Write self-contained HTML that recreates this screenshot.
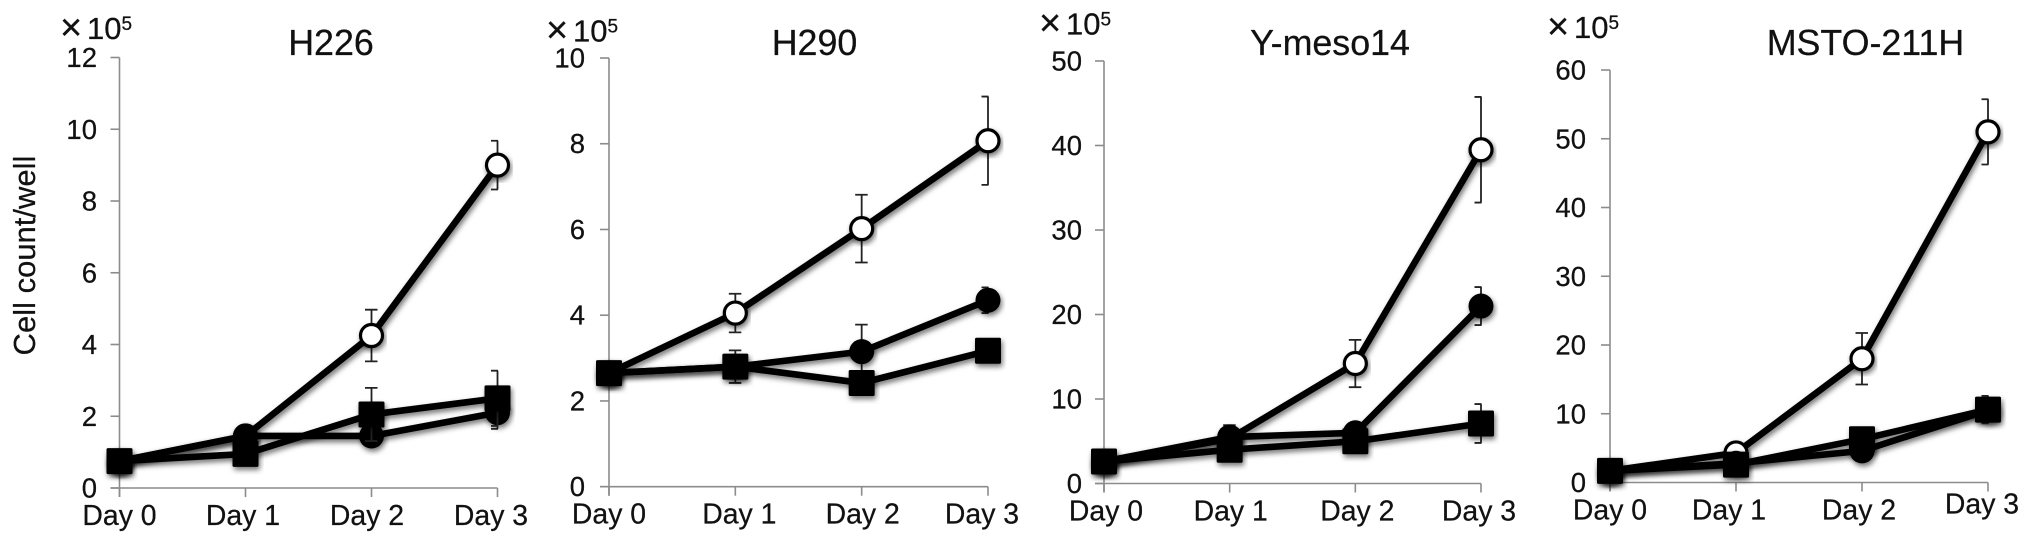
<!DOCTYPE html>
<html lang="en">
<head>
<meta charset="utf-8">
<title>Cell count panels</title>
<style>
html,body{margin:0;padding:0;background:#fff;width:2031px;height:544px;overflow:hidden}
svg{display:block}
text{font-family:"Liberation Sans",Arial,sans-serif;fill:#111;stroke:#111;stroke-width:0.25}
</style>
</head>
<body>
<svg id="chart" xmlns="http://www.w3.org/2000/svg" width="2031" height="544" viewBox="0 0 2031 544">
<defs>
<filter id="soft-shadow" x="-20%" y="-20%" width="140%" height="150%">
<feDropShadow dx="1.5" dy="3" stdDeviation="2.6" flood-color="#000" flood-opacity="0.55"/>
</filter>
</defs>
<rect width="2031" height="544" fill="#fff"/>
<text transform="translate(35,255.5) rotate(-90)" text-anchor="middle" font-size="31">Cell count/well</text>
</svg>
<script>
const days = ["Day 0", "Day 1", "Day 2", "Day 3"];

const h226Ticks = [0, 2, 4, 6, 8, 10, 12];
const h226White = [0.75, 1.45, 4.25, 9.0];
const h226WhiteErr = [0, 0.1, 0.72, 0.68];
const h226Circle = [0.75, 1.45, 1.45, 2.1];
const h226CircleErr = [0, 0.1, 0.1, 0.45];
const h226Square = [0.75, 0.95, 2.05, 2.5];
const h226SquareErr = [0, 0.1, 0.74, 0.77];

const h290Ticks = [0, 2, 4, 6, 8, 10];
const h290White = [2.65, 4.05, 6.02, 8.07];
const h290WhiteErr = [0, 0.45, 0.79, 1.03];
const h290Circle = [2.65, 2.8, 3.15, 4.35];
const h290CircleErr = [0, 0.38, 0.63, 0.3];
const h290Square = [2.65, 2.8, 2.42, 3.17];
const h290SquareErr = [0, 0.2, 0.1, 0.26];

const ymesoTicks = [0, 10, 20, 30, 40, 50];
const ymesoWhite = [2.6, 5.3, 14.2, 39.5];
const ymesoWhiteErr = [0, 0.5, 2.8, 6.25];
const ymesoCircle = [2.6, 5.5, 6, 21];
const ymesoCircleErr = [0, 1.4, 0.5, 2.25];
const ymesoSquare = [2.6, 4, 5, 7.1];
const ymesoSquareErr = [0, 0.5, 0.5, 2.3];

const mstoTicks = [0, 10, 20, 30, 40, 50, 60];
const mstoWhite = [1.7, 4.3, 18, 51];
const mstoWhiteErr = [0, 0.5, 3.75, 4.75];
const mstoCircle = [1.7, 2.8, 4.6, 10.5];
const mstoCircleErr = [0, 0.5, 0.5, 1];
const mstoSquare = [1.7, 2.6, 6.3, 10.6];
const mstoSquareErr = [0, 0.5, 0.5, 2];

const panels = [
  {key: "h226", title: "H226", ticks: h226Ticks,
   white: h226White, whiteErr: h226WhiteErr, circle: h226Circle, circleErr: h226CircleErr, square: h226Square, squareErr: h226SquareErr,
   left: 119.5, right: 497.5, top: 57.5, bottom: 488, tickRight: 97, titleX: 331, expX: 60, expY: 39,
   labelDx: [0, -2.6, -4.5, -6.5], labelDy: [0, 0, 0, 0]},
  {key: "h290", title: "H290", ticks: h290Ticks,
   white: h290White, whiteErr: h290WhiteErr, circle: h290Circle, circleErr: h290CircleErr, square: h290Square, squareErr: h290SquareErr,
   left: 609, right: 988, top: 58, bottom: 486.7, tickRight: 585, titleX: 814.5, expX: 546, expY: 41.5,
   labelDx: [0, 4, 1, -6], labelDy: [0, 0, 0, 0]},
  {key: "y-meso14", title: "Y-meso14", ticks: ymesoTicks,
   white: ymesoWhite, whiteErr: ymesoWhiteErr, circle: ymesoCircle, circleErr: ymesoCircleErr, square: ymesoSquare, squareErr: ymesoSquareErr,
   left: 1104, right: 1481, top: 61, bottom: 483.5, tickRight: 1082, titleX: 1330, expX: 1039, expY: 34.5,
   labelDx: [2, 1, 2, -2], labelDy: [0, 0, 0, 0]},
  {key: "msto-211h", title: "MSTO-211H", ticks: mstoTicks,
   white: mstoWhite, whiteErr: mstoWhiteErr, circle: mstoCircle, circleErr: mstoCircleErr, square: mstoSquare, squareErr: mstoSquareErr,
   left: 1610, right: 1988, top: 70, bottom: 482.5, tickRight: 1586, titleX: 1865.5, expX: 1547, expY: 38,
   labelDx: [0, -7, -3, -6], labelDy: [0, 0, 0, -6]}
];

const NS = "http://www.w3.org/2000/svg";
const root = document.getElementById("chart");

function make(tag, parent, props, txt) {
  const node = document.createElementNS(NS, tag);
  for (const k in props) node.setAttribute(k, props[k]);
  if (txt !== undefined) node.textContent = txt;
  parent.appendChild(node);
  return node;
}

function drawPanel(p) {
  const maxY = p.ticks[p.ticks.length - 1];
  const xOf = i => p.left + i * (p.right - p.left) / (days.length - 1);
  const yOf = v => p.bottom - v / maxY * (p.bottom - p.top);

  const g = make("g", root, {});
  
  

  const title = make("text", g, {x: p.titleX, y: 55, "text-anchor": "middle", "font-size": 35.8}, p.title);
  
  

  const exp = make("text", g, {x: p.expX, y: p.expY, "font-size": 31});
  
  
  make("tspan", exp, {"font-size": 38, dy: 1}, "×");
  make("tspan", exp, {x: p.expX + 27, dy: -1}, "10");
  make("tspan", exp, {dy: -9, "font-size": 19}, "5");

  const yAxis = make("line", g, {x1: p.left, x2: p.left, y1: p.top, y2: p.bottom + 9, stroke: "#8c8c8c", "stroke-width": 1.6});
  
  
  const xAxis = make("line", g, {x1: p.left - 9, x2: p.right, y1: p.bottom, y2: p.bottom, stroke: "#8c8c8c", "stroke-width": 1.6});
  
  

  p.ticks.forEach(t => {
    const y = yOf(t);
    const mark = make("line", g, {x1: p.left - 9, x2: p.left, y1: y, y2: y, stroke: "#8c8c8c", "stroke-width": 1.6});
    
    
    const lab = make("text", g, {x: p.tickRight, y: y + 9.5, "text-anchor": "end", "font-size": 27.5}, String(t));
    
    
  });

  days.forEach((d, i) => {
    const x = xOf(i);
    const mark = make("line", g, {x1: x, x2: x, y1: p.bottom, y2: p.bottom + 9, stroke: "#8c8c8c", "stroke-width": 1.6});
    
    
    const lab = make("text", g, {x: x + p.labelDx[i], y: p.bottom + 37 + p.labelDy[i], "text-anchor": "middle", "font-size": 28.4}, d);
    
    
  });

  const seriesList = [
    {kind: "white", values: p.white, errs: p.whiteErr},
    {kind: "circle", values: p.circle, errs: p.circleErr},
    {kind: "square", values: p.square, errs: p.squareErr}
  ];

  seriesList.forEach(s => {
    const sg = make("g", g, {});
    
    

    s.values.forEach((v, i) => {
      const e = s.errs[i];
      if (!e) return;
      const x = xOf(i);
      const capR = i === days.length - 1 ? 0.5 : 6;
      const d = "M" + x + " " + yOf(v + e) + "V" + yOf(v - e) +
        "M" + (x - 6.5) + " " + yOf(v + e) + "H" + (x + capR) +
        "M" + (x - 6.5) + " " + yOf(v - e) + "H" + (x + capR);
      const bar = make("path", sg, {d: d, fill: "none", stroke: "#222", "stroke-width": 1.8});
      
      
    });

    const pts = s.values.map((v, i) => xOf(i) + "," + yOf(v)).join(" ");
    const line = make("polyline", sg, {points: pts, fill: "none", stroke: "#000", "stroke-width": 6.6, "stroke-linejoin": "round", filter: "url(#soft-shadow)"});
    
    

    s.values.forEach((v, i) => {
      const x = xOf(i), y = yOf(v);
      let m;
      if (s.kind === "square") {
        m = make("rect", sg, {x: x - 13, y: y - 13, width: 26, height: 26, rx: 1.5, fill: "#000", filter: "url(#soft-shadow)"});
      } else if (s.kind === "circle") {
        m = make("circle", sg, {cx: x, cy: y, r: 12.5, fill: "#000", filter: "url(#soft-shadow)"});
      } else {
        m = make("circle", sg, {cx: x, cy: y, r: 11, fill: "#fff", stroke: "#000", "stroke-width": 3.2, filter: "url(#soft-shadow)"});
      }
      
      
    });
  });
}

panels.forEach(drawPanel);
</script>
</body>
</html>
